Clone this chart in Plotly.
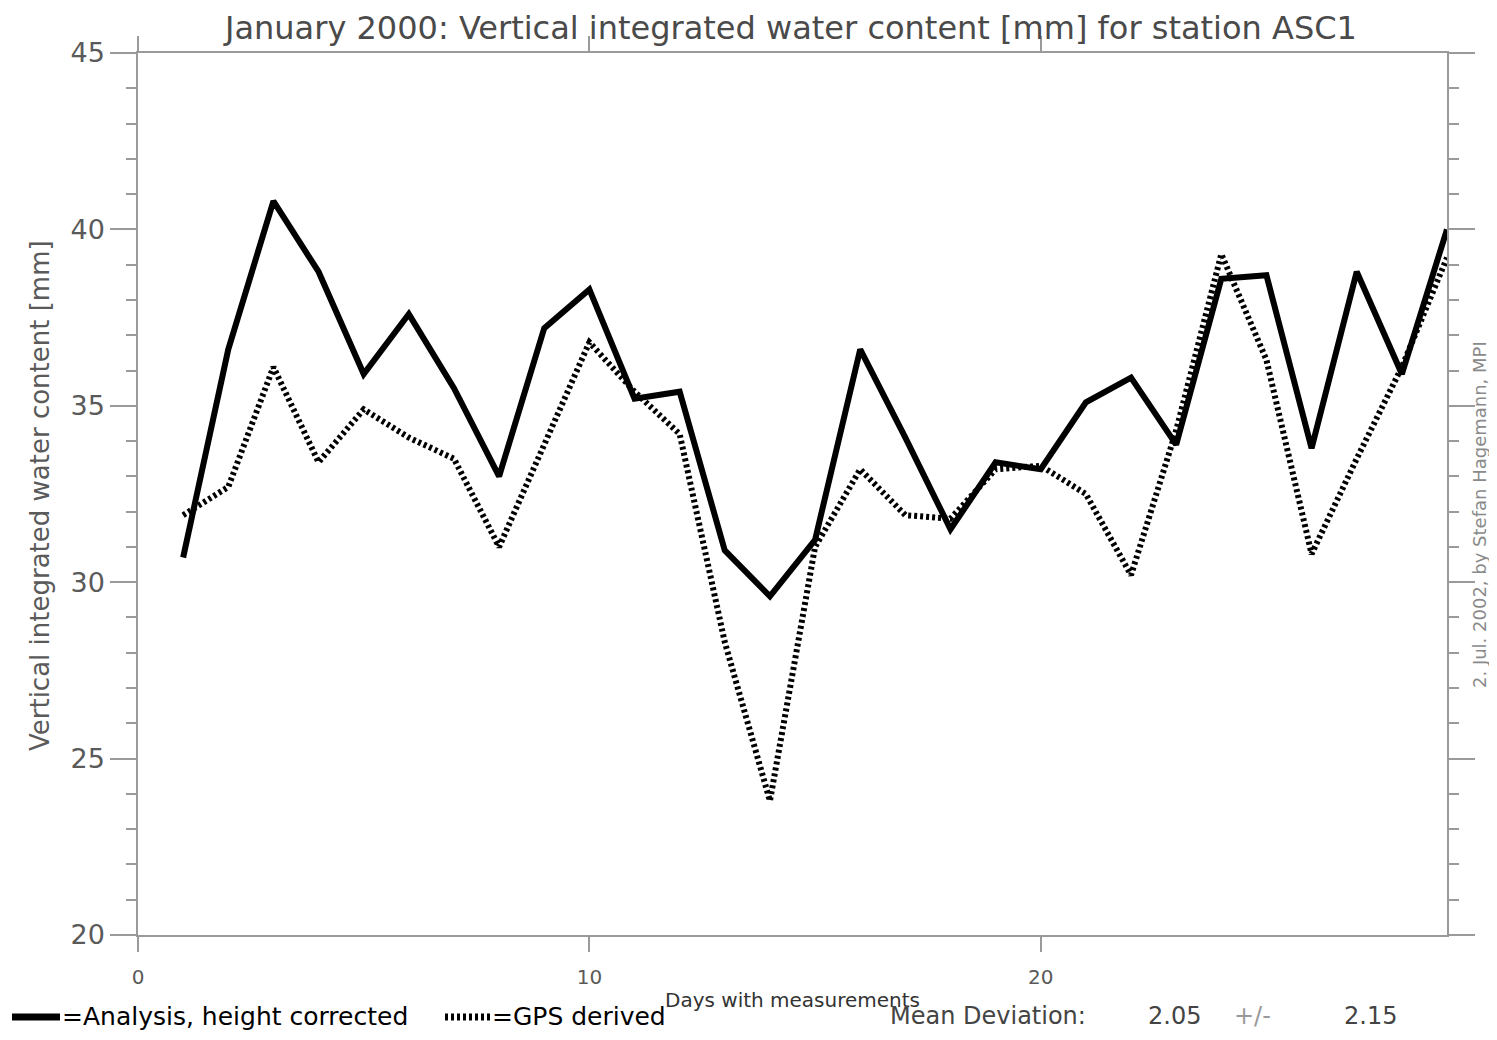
import plotly.graph_objects as go

# Days of January 2000 with measurements
days = list(range(1, 30))

# Vertical integrated water content [mm]
analysis_corrected = [30.7, 36.6, 40.8, 38.8, 35.9, 37.6, 35.5, 33.0, 37.2, 38.3,
                      35.2, 35.4, 30.9, 29.6, 31.2, 36.6, 34.1, 31.5, 33.4, 33.2,
                      35.1, 35.8, 33.9, 38.6, 38.7, 33.8, 38.8, 35.9, 40.0]
gps_derived = [31.9, 32.7, 36.1, 33.4, 34.9, 34.1, 33.5, 31.0, 33.9, 36.8,
               35.4, 34.2, 28.3, 23.8, 31.0, 33.2, 31.9, 31.8, 33.2, 33.3,
               32.5, 30.2, 34.3, 39.3, 36.3, 30.8, 33.5, 36.1, 39.2]

x_ticks = [0, 10, 20]
y_ticks = [20, 25, 30, 35, 40, 45]

mean_dev = '2.05'
std_dev = '2.15'

FONT = 'DejaVu Sans'
AXIS_GRAY = '#9a9a9a'
TEXT_GRAY = '#5a5a5a'

# the page body has an 8px margin, so work in page pixels and shift
OFF = 8
W, H = 1497 - 2 * OFF, 1040 - 2 * OFF
L, R, T, B = 138, 1447, 53, 935   # plot area in page pixels


def px(x):
    return (x - L) / (R - L)


def py(y):
    return (B - y) / (B - T)


fig = go.Figure()

fig.add_trace(go.Scatter(
    x=days, y=analysis_corrected, mode='lines',
    line=dict(color='black', width=6), name='Analysis, height corrected'
))
fig.add_trace(go.Scatter(
    x=days, y=gps_derived, mode='lines',
    line=dict(color='black', width=6, dash='3px,3px'), name='GPS derived'
))

fig.update_layout(
    width=W, height=H,
    margin=dict(l=L - OFF, r=W - (R - OFF), t=T - OFF, b=H - (B - OFF)),
    plot_bgcolor='white', paper_bgcolor='white',
    showlegend=False,
    font=dict(family=FONT, color=TEXT_GRAY),
)

fig.update_xaxes(
    range=[0, 29], tickvals=x_ticks, showgrid=False, zeroline=False,
    showline=True, linecolor=AXIS_GRAY, linewidth=1.5, mirror='ticks',
    ticks='outside', ticklen=15, tickcolor=AXIS_GRAY, tickwidth=1.5,
    ticklabelstandoff=8,
    tickfont=dict(size=20, color=TEXT_GRAY)
)
fig.update_yaxes(
    range=[20, 45], tickvals=y_ticks, showgrid=False, zeroline=False,
    showline=True, linecolor=AXIS_GRAY, linewidth=1.5, mirror='ticks',
    ticks='outside', ticklen=26, tickcolor=AXIS_GRAY, tickwidth=1.5,
    tickfont=dict(size=27, color=TEXT_GRAY),
    minor=dict(dtick=1, ticks='outside', ticklen=10, tickcolor=AXIS_GRAY, tickwidth=1.5)
)

annotations = [
    dict(text='January 2000: Vertical integrated water content [mm] for station ASC1',
         x=px(790), y=py(28), font=dict(size=32, color='#4a4a4a')),
    dict(text='Vertical integrated water content [mm]', textangle=-90,
         x=px(40), y=py(496), font=dict(size=26, color=TEXT_GRAY)),
    dict(text='Days with measurements',
         x=px(792), y=py(1000), font=dict(size=20, color='#333333')),
    dict(text='2. Jul. 2002, by Stefan Hagemann, MPI', textangle=-90,
         x=px(1479), y=py(515), font=dict(size=18, color='#8a8a8a')),
    dict(text='=Analysis, height corrected', xanchor='left',
         x=px(60), y=py(1016), font=dict(size=25, color='black')),
    dict(text='=GPS derived', xanchor='left',
         x=px(490), y=py(1016), font=dict(size=25, color='black')),
    dict(text='Mean Deviation:', xanchor='left',
         x=px(888), y=py(1016), font=dict(size=24, color='#444444')),
    dict(text=mean_dev, xanchor='left',
         x=px(1146), y=py(1016), font=dict(size=24, color='#444444')),
    dict(text='+/-', xanchor='left',
         x=px(1232), y=py(1016), font=dict(size=24, color='#999999')),
    dict(text=std_dev, xanchor='left',
         x=px(1342), y=py(1016), font=dict(size=24, color='#444444')),
]
for a in annotations:
    a.setdefault('xanchor', 'center')
    fig.add_annotation(xref='paper', yref='paper', showarrow=False,
                       yanchor='middle', **a)

# legend line samples at the bottom
fig.add_shape(type='line', xref='paper', yref='paper',
              x0=px(12), x1=px(60), y0=py(1017), y1=py(1017),
              line=dict(color='black', width=7))
fig.add_shape(type='line', xref='paper', yref='paper',
              x0=px(445), x1=px(490), y0=py(1017), y1=py(1017),
              line=dict(color='black', width=7, dash='3px,3px'))

fig.write_html("out.html")
